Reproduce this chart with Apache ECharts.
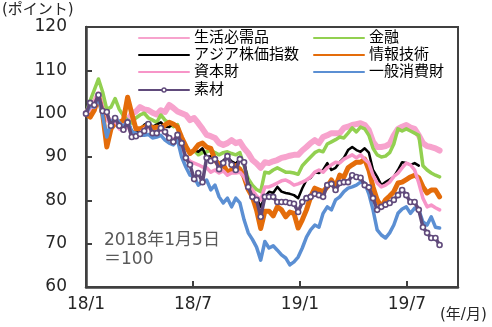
<!DOCTYPE html>
<html>
<head>
<meta charset="utf-8">
<script src="https://cdn.jsdelivr.net/npm/echarts@6/dist/echarts.min.js"></script>
<style>
html,body{margin:0;padding:0;background:#fff;}
#c{width:492px;height:327px;}
</style>
</head>
<body>
<div id="c"></div>
<script>
// Weekly observations starting 2018-01-05 (x = days since 2018-01-05)
const weekCount = 86;
const xDays = [];
for (let i = 0; i < weekCount; i++) xDays.push(i * 7);

const xTickLabels = ['18/1', '18/7', '19/1', '19/7'];
const seriesNames = ['生活必需品', '金融', 'アジア株価指数', '情報技術', '資本財', '一般消費財', '素材'];

const staples = [100, 101.5, 102.5, 104.5, 101, 99, 98, 98.5, 97, 96.5,
  98.5, 100, 100.5, 101.5, 101, 100.8, 100.2, 99.8, 100.8, 100.4,
  102, 101.3, 100.5, 100.1, 99.7, 98.5, 99, 97.8, 96.5, 95.1,
  94.8, 94.4, 93.2, 92.8, 93.2, 93.9, 93.2, 93.5, 92, 90.9,
  89.3, 88.5, 87.5, 88.8, 88.6, 89, 89.3, 89.8, 90, 90.3,
  90.5, 90.5, 91.5, 92.3, 93.2, 93.9, 93.2, 94.6, 95, 95.5,
  95.5, 95.5, 96.7, 97, 97.4, 97.6, 97.8, 97.4, 96.2, 93.5,
  92.3, 92.3, 92.5, 93, 95, 96.5, 97, 97.4, 96.8, 96.5,
  95, 93.2, 92.5, 92.3, 92, 91.5];

const financials = [100, 103, 105.5, 108, 105, 101, 101.5, 103.5, 101, 99.5,
  98.5, 97.8, 99, 99.7, 100.1, 99, 98.5, 98, 99.7, 98.5,
  97.8, 97, 97.5, 94, 92.5, 90.8, 91.5, 90.5, 91, 91.2,
  91.6, 91, 90.5, 91, 91.2, 90.8, 90.5, 91, 88, 85,
  83.5, 82.5, 82, 86.5, 86.3, 87, 87.5, 87, 86.5, 86.5,
  86.3, 86, 88, 89, 90, 91, 91.5, 91.2, 93, 93.5,
  94, 94.6, 94.4, 95.5, 96.7, 95.8, 96.9, 96.5, 95, 92,
  90.5, 90, 90.2, 91, 93, 96.5, 96, 96.5, 96, 95.5,
  95, 88, 87, 86.3, 85.8, 85.4];

const asiaIndex = [100, 101.5, 102, 104, 100.8, 100.2, 97, 99, 97.5, 97,
  98.5, 96, 95.5, 96.5, 97.4, 98, 97, 97.5, 98, 97,
  96.9, 97.8, 96.9, 94.5, 92.3, 90.9, 91.6, 91.2, 92, 90,
  90.2, 89.8, 88.5, 89.2, 90, 89, 88.5, 89.5, 89, 84,
  81.5, 80.5, 78.5, 80.8, 82, 81.7, 83.1, 82, 81.7, 81.5,
  81.2, 80.5, 82.8, 84.7, 85.2, 86.5, 86.3, 87, 88.6, 87,
  87.5, 88.8, 89.8, 91.6, 92.3, 91.6, 91.2, 92, 91, 87,
  85.4, 83.5, 84.2, 84.8, 85.4, 87, 88.8, 88.6, 88.2, 88.6,
  88, null, null, null, null, null];

const infoTech = [100, 99.2, 100.8, 104, 100, 92.3, 96.5, 97.8, 98, 98.5,
  103.8, 100, 96.5, 96.5, 96.9, 97.4, 96.7, 96.9, 96.5, 97.4,
  98, 97.6, 96.9, 94.5, 92.5, 90.8, 91.6, 92.8, 93.2, 92.3,
  92, 89.3, 88.2, 88.2, 86.5, 87, 88, 87.2, 85.4, 82.5,
  80.8, 77.8, 73.5, 77.5, 77.5, 76.4, 78.5, 77.8, 76.2, 77.3,
  77, 73.6, 75.5, 77.8, 80.8, 82.8, 82.4, 82, 83.1, 84.7,
  83.1, 85.8, 85.4, 87.5, 88.2, 88.8, 88.8, 89.5, 87, 83.1,
  80.1, 78.5, 80.1, 81, 82, 84, 84.2, 84.8, 85.4, 85.8,
  85.2, 83.1, 81.7, 82.4, 82.4, 80.8];

const capitalGoods = [100, 101.5, 101.5, 104, 100.5, 100, 97.5, 98.5, 96.5, 96,
  97.5, 95, 95, 95.5, 96.5, 97, 95.8, 95.5, 96.5, 95.5,
  94.5, 94, 94.5, 92.5, 90, 89, 88.6, 88.2, 87.7, 87.5,
  86.5, 87, 86.3, 86.8, 85.8, 86.3, 86.3, 86.5, 85.4, 83.5,
  82.4, 81, 80.1, 83.1, 83.1, 83.5, 84, 84.5, 84.7, 84.2,
  83.5, 83.8, 84.2, 84.7, 85.4, 86.5, 87, 86.5, 87.5, 88.2,
  88.8, 88.6, 89.5, 90, 90.5, 89.8, 90.5, 89.5, 88.6, 85.8,
  84, 83.1, 83.5, 84.2, 85.5, 86.3, 87.5, 88.6, 88.2, 87,
  84, 80.5, 78.5, 78.9, 78.3, 77.8];

const consumerDisc = [100, 101.8, 101.5, 103.8, 99.5, 94.6, 98, 99.2, 98, 96.9,
  98.5, 95.8, 95.5, 95, 95, 95.2, 94.4, 94.6, 95, 93.9,
  93.2, 92.8, 93.9, 90, 87.7, 85.8, 85.4, 83.5, 84.2, 84.7,
  82.4, 83.5, 80.8, 79.4, 80.5, 78.5, 80.5, 79.4, 75.5, 72.5,
  71, 69.2, 66.2, 70.5, 69, 69.5, 68.5, 67.4, 66.7, 65.1,
  65.8, 66.9, 69, 71.5, 73.2, 74.3, 73.8, 77, 78.5, 77.8,
  80.1, 80.8, 82, 82.8, 83.1, 83.5, 84.2, 84, 81.5, 77.8,
  73.2, 72, 71.3, 72.5, 74.3, 77, 78, 78.5, 77, 78.2,
  77.8, 75, 74.3, 76.2, 73.8, 73.6];

const materials = [100, 102.5, 102, 104.3, 100.6, 100.4, 97.2, 99, 97.2, 96.3,
  98, 94.6, 94.8, 95.3, 96, 97.6, 95.5, 95.5, 96.7, 95.8,
  94.4, 93.5, 95.1, 93.2, 89.8, 88.2, 84.9, 86.3, 84.2, 89.8,
  89.1, 89.5, 87.2, 88.6, 90.2, 88.2, 87, 89.5, 88.8, 83.1,
  80.8, 80.1, 76.2, 80.8, 80.8, 80.8, 79.6, 79.6, 79.6, 79.4,
  79.2, 77.3, 79.6, 80.5, 80.8, 81.5, 81.2, 80.8, 83.5, 83.8,
  82.4, 84, 84.2, 84.2, 85.8, 85.4, 85.2, 83.5, 83, 80.5,
  77.8, 78.5, 79, 79.4, 80.1, 81.2, 82.4, 81.2, 79.6, 79.6,
  77.8, 73.8, 72.5, 71.3, 71.3, 69.7];

const seriesValues = [staples, financials, asiaIndex, infoTech, capitalGoods, consumerDisc, materials];
const seriesColors = ['#F7A3CD', '#92D050', '#000000', '#E46C0A', '#F795C8', '#5B8FD3', '#604A7B'];
const seriesWidths = [6, 3.5, 2.5, 5, 3.5, 3.5, 3.5];

const FONT = '"DejaVu Sans", "Noto Sans CJK JP", sans-serif';

function pairs(vals) {
  return vals.map((v, i) => [xDays[i], v]);
}

const series = seriesNames.map((name, k) => {
  const s = {
    name: name,
    type: 'line',
    data: pairs(seriesValues[k]),
    color: seriesColors[k],
    lineStyle: { color: seriesColors[k], width: seriesWidths[k], join: 'round', cap: 'round' },
    symbol: 'none',
    smooth: false,
    connectNulls: false,
    z: 2 + k
  };
  if (name === '素材') {
    s.symbol = 'circle';
    s.symbolSize = 5;
    s.showSymbol = true;
    s.showAllSymbol = true;
    s.itemStyle = { color: '#ffffff', borderColor: '#604A7B', borderWidth: 1.6 };
  }
  return s;
});

function legendItem(name) {
  return { name: name, itemStyle: { opacity: 0 } };
}

const legendText = { fontSize: 15, lineHeight: 16, color: '#000', fontFamily: FONT };

const chart = echarts.init(document.getElementById('c'), null, { renderer: 'canvas' });
chart.setOption({
  animation: false,
  backgroundColor: '#ffffff',
  grid: {
    left: 86, right: 34, top: 27, bottom: 40,
    show: true, borderColor: '#404040', borderWidth: 2, backgroundColor: 'transparent'
  },
  legend: [
    {
      data: ['生活必需品', 'アジア株価指数', '資本財'].map(legendItem),
      orient: 'vertical', left: 133, top: 25,
      itemWidth: 50, itemHeight: 10, itemGap: 1,
      textStyle: legendText,
      selectedMode: false
    },
    {
      data: [{ name: '素材', itemStyle: { borderWidth: 1.4 } }],
      orient: 'vertical', left: 133, top: 77,
      itemWidth: 50, itemHeight: 5, itemGap: 1,
      textStyle: legendText,
      selectedMode: false
    },
    {
      data: ['金融', '情報技術', '一般消費財'].map(legendItem),
      orient: 'vertical', left: 308, top: 25,
      itemWidth: 50, itemHeight: 10, itemGap: 1,
      textStyle: legendText,
      selectedMode: false
    }
  ],
  xAxis: {
    type: 'value', min: 0, max: 626, interval: 180,
    axisLine: { show: true, lineStyle: { color: '#404040', width: 2.5 } },
    axisTick: { show: true, inside: true, length: 6, lineStyle: { color: '#404040', width: 2 } },
    splitLine: { show: false },
    axisLabel: {
      margin: 9, fontSize: 17, color: '#262626', fontFamily: FONT,
      showMaxLabel: false,
      formatter: function (v) {
        const k = Math.round(v / 180);
        return (Math.abs(v - k * 180) < 0.01 && k < xTickLabels.length) ? xTickLabels[k] : '';
      }
    }
  },
  yAxis: {
    type: 'value', min: 60, max: 120, interval: 10,
    axisLine: { show: true, lineStyle: { color: '#404040', width: 2.5 } },
    axisTick: { show: true, inside: true, length: 6, lineStyle: { color: '#404040', width: 2 } },
    splitLine: { show: false },
    axisLabel: { margin: 19, fontSize: 17, color: '#262626', fontFamily: FONT }
  },
  graphic: [
    { type: 'text', left: 2, top: 3, style: { text: '(ポイント)', fontSize: 15, fill: '#262626', fontFamily: FONT } },
    { type: 'text', left: 440, top: 308, style: { text: '(年/月)', fontSize: 15, fill: '#262626', fontFamily: FONT } },
    { type: 'text', left: 104, top: 231, style: { text: '2018年1月5日\n＝100', fontSize: 17, lineHeight: 19, fill: '#595959', fontFamily: FONT } }
  ],
  series: series
});
</script>
</body>
</html>
